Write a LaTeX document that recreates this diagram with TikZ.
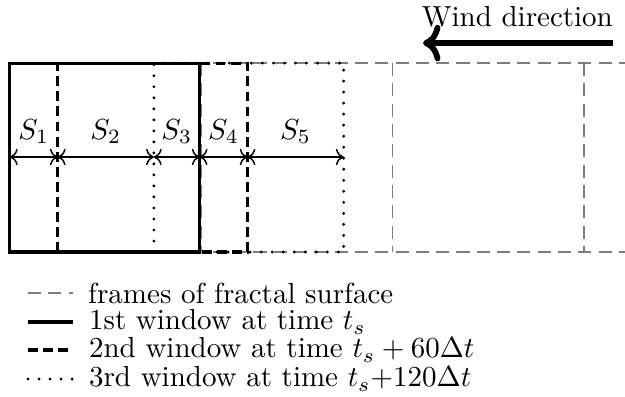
\documentclass[tikz,border=0pt]{standalone}
\usepackage{amsmath}
\usepackage{tikz}
\usetikzlibrary{
	arrows.meta,
	positioning
}
\definecolor{FrameGray}{RGB}{125,125,125}

\begin{document}
\begin{tikzpicture}[
		frameline/.style={FrameGray, line width=0.5pt, dash pattern=on 4.5pt off 2.5pt},
		firstwin/.style={line width=1.1pt},
		secondwin/.style={line width=1.1pt, dash pattern=on 3.4pt off 1.8pt},
		thirdwin/.style={line width=1.1pt, line cap=round, dash pattern=on 0pt off 3.8pt},
		span/.style={<->, line width=0.5pt},
		legtext/.style={inner sep=0pt, text=black}
	]
	\clip (0,0) rectangle (7.575,4.8);
	% frames of fractal surface
	\draw[frameline] (0.12,4.035) -- (7.7,4.035);
	\draw[frameline] (0.12,1.745) -- (7.7,1.745);
	\foreach \k in {0,...,3}
		\draw[frameline] (0.12+2.32*\k,4.035) -- (0.12+2.32*\k,1.745);
	% the three windows
	\draw[thirdwin] (1.865,1.745) rectangle ++(2.30,2.29);
	\draw[secondwin] (0.70,1.745) rectangle ++(2.30,2.29);
	\draw[firstwin] (0.12,1.745) rectangle ++(2.30,2.29);
	% split points
	\coordinate (d0) at (0.12,2.897);
	\coordinate (d1) at (0.70,2.897);
	\coordinate (d2) at (1.865,2.897);
	\coordinate (d3) at (2.42,2.897);
	\coordinate (d4) at (3.00,2.897);
	\coordinate (d5) at (4.165,2.897);
	\draw[span] (d0) -- node[above=1pt] (s1) {$S_1$} (d1);
	\draw[span] (d1) -- node[above=1pt] (s2) {$S_2$} (d2);
	\draw[span] (d2) -- node[above=1pt] (s3) {$S_3$} (d3);
	\draw[span] (d3) -- node[above=1pt] (s4) {$S_4$} (d4);
	\draw[span] (d4) -- node[above=1pt] (s5) {$S_5$} (d5);
	% wind
	\coordinate (windtail) at (7.43,4.278);
	\coordinate (windhead) at (5.127,4.278);
	\node (windlabel) at (6.27,4.6) {Wind direction};
	\draw[line width=2pt, ->] (windtail) -- (windhead);
	% legend
	\draw[frameline] (0.34,1.248) -- (0.885,1.248) node[legtext, right=5pt] (legframes) {frames of fractal surface};
	\draw[firstwin] (0.34,0.897) -- (0.885,0.897) node[legtext, right=5pt] (legfirst) {1st window at time $t_s$};
	\draw[secondwin] (0.34,0.558) -- (0.885,0.558) node[legtext, right=5pt] (legsecond) {2nd window at time $t_s+60\Delta t$};
	\draw[thirdwin] (0.34,0.206) -- (0.885,0.206) node[legtext, right=5pt] (legthird) {3rd window at time $t_s{+}120\Delta t$};
\end{tikzpicture}
\end{document}
